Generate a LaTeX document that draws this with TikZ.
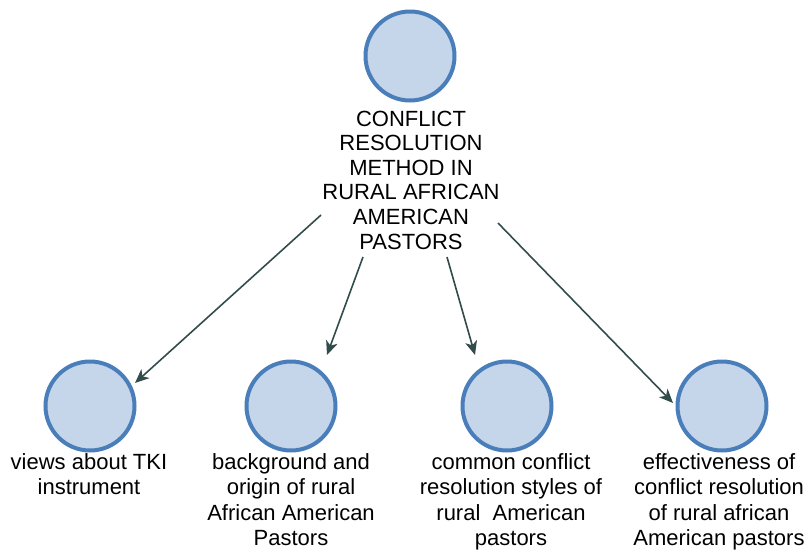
\documentclass[tikz,border=0pt]{standalone}
\usepackage{fontspec}
\setmainfont{Liberation Sans}
\usetikzlibrary{arrows.meta}
\definecolor{cfill}{RGB}{197,214,234}
\definecolor{cdraw}{RGB}{74,126,187}
\definecolor{arrc}{RGB}{50,76,76}
\tikzset{
  topic/.style={circle, draw=cdraw, fill=cfill, line width=4pt, minimum size=89pt, inner sep=0pt},
  toplabel/.style={align=center, inner sep=0pt, font=\fontsize{22pt}{24.6pt}\selectfont},
  sublabel/.style={align=center, inner sep=0pt, anchor=north, font=\fontsize{22pt}{25.5pt}\selectfont},
  link/.style={draw=arrc, line width=1.6pt, -{Stealth[length=14pt,width=12pt,inset=4pt]}}
}
\begin{document}
\begin{tikzpicture}[x=1pt,y=-1pt]
\useasboundingbox (0,0) rectangle (809,550);
\node[topic] (root) at (410,56) {};
\node[toplabel] (rootlbl) at (411,180) {CONFLICT\\RESOLUTION\\METHOD IN\\RURAL AFRICAN\\AMERICAN\\PASTORS};

\node[topic] (c1) at (90,406) {};
\node[topic] (c2) at (291,406) {};
\node[topic] (c3) at (507,406) {};
\node[topic] (c4) at (722,406) {};

\node[sublabel] (l1) at (89,453) {views about TKI\\instrument};
\node[sublabel] (l2) at (291,453) {background and\\origin of rural\\African American\\Pastors};
\node[sublabel] (l3) at (511,453) {common conflict\\resolution styles of\\rural~~American\\pastors};
\node[sublabel] (l4) at (719,453) {effectiveness of\\conflict resolution\\of rural african\\American pastors};

\coordinate (s1) at (321,215);
\coordinate (s2) at (363,257);
\coordinate (s3) at (447,257);
\coordinate (s4) at (498,223);
\coordinate (e1) at (135,383);
\coordinate (e2) at (327,355);
\coordinate (e3) at (475,355);
\coordinate (e4) at (673,403);

\draw[link] (s1) -- (e1);
\draw[link] (s2) -- (e2);
\draw[link] (s3) -- (e3);
\draw[link] (s4) -- (e4);
\end{tikzpicture}
\end{document}
